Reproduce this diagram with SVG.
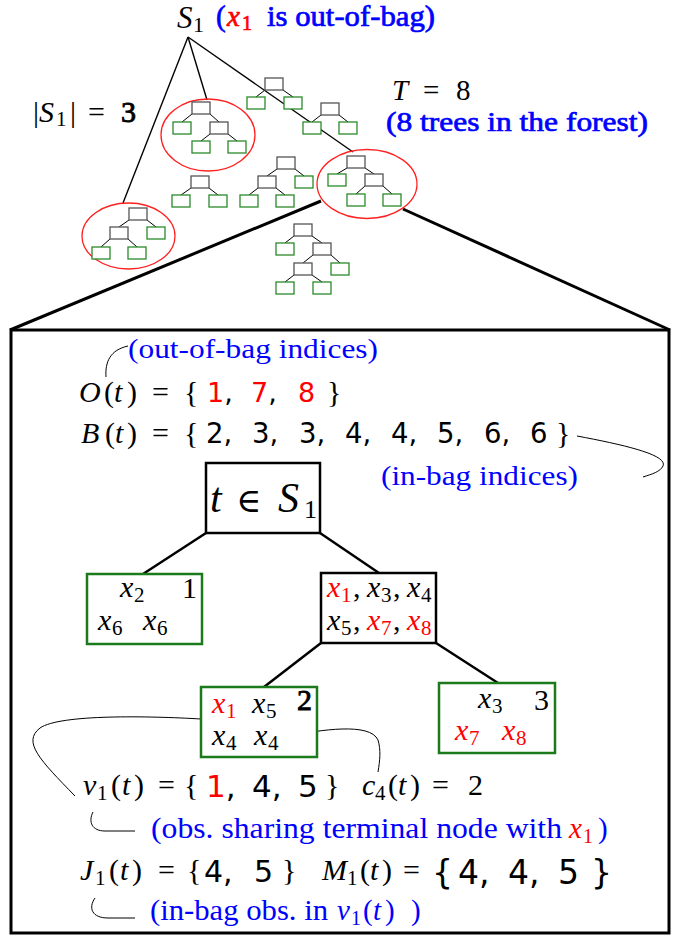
<svg xmlns="http://www.w3.org/2000/svg" width="681" height="938" viewBox="0 0 681 938">
<style>
.m{font-family:"Liberation Serif","Times New Roman",serif;fill:#000}
.it{font-style:italic}
.d{font-family:"DejaVu Sans",sans-serif}
.bl{fill:#0000ff}
.rd{fill:#ff0000}
.bk{fill:#000}
.bdb{stroke:#0000ff;stroke-width:0.7}
.bdr{stroke:#ff0000;stroke-width:0.7}
.bdk{stroke:#000;stroke-width:0.9}
.n{fill:#fff;stroke:#555;stroke-width:1.3}
.l{fill:#fff;stroke:#2a8a2a;stroke-width:1.3}
.te{stroke:#000;stroke-width:1}
.ell{fill:none;stroke:#ff2020;stroke-width:1.3}
.thin{stroke:#000;stroke-width:1.4;fill:none}
.thick{stroke:#000;stroke-width:3;fill:none}
.edge{stroke:#000;stroke-width:2.5;fill:none}
.cur{stroke:#000;stroke-width:1;fill:none}
.gbox{fill:#fff;stroke:#1b7a1b;stroke-width:2.5}
.kbox{fill:#fff;stroke:#000;stroke-width:2.5}
</style>
<rect width="681" height="938" fill="#fff"/>

<g id="connectors">
  <line class="thin" x1="188" y1="37" x2="123" y2="203"/>
  <line class="thin" x1="188" y1="37" x2="207" y2="100"/>
  <line class="thin" x1="188" y1="37" x2="353" y2="152"/>
  <line class="thick" x1="321" y1="201" x2="10" y2="330"/>
  <line class="thick" x1="403" y1="209" x2="670" y2="330"/>
  <line class="edge" x1="206" y1="533" x2="143" y2="574"/>
  <line class="edge" x1="320" y1="533" x2="379" y2="573"/>
  <line class="edge" x1="321" y1="643" x2="264" y2="687"/>
  <line class="edge" x1="436" y1="643" x2="498" y2="683"/>
  <path class="cur" d="M106 377 C105 362 110 350 128 346"/>
  <path class="cur" d="M577 436 C625 445 668 455 663 466 C660 472 652 474 643 477"/>
  <path class="cur" d="M201 719 C150 716 60 714 40 728 C22 742 40 760 75 796"/>
  <path class="cur" d="M289 736 C320 730 370 722 378 740 C381 750 380 760 378 772"/>
  <path class="cur" d="M93 812 C88 822 92 831 105 831 L135 831"/>
  <path class="cur" d="M95 898 C88 908 92 918 108 918 L135 918"/>
</g>

<g id="forest">
  <ellipse class="ell" cx="208" cy="135" rx="47" ry="36"/>
  <ellipse class="ell" cx="367" cy="184" rx="50" ry="34.5"/>
  <ellipse class="ell" cx="128.5" cy="236" rx="46.5" ry="33"/>
  <g id="treeA">
    <path class="te" d="M192 114L182 122M210 114L219 122M210 134L201 141M228 134L237 141"/>
    <rect class="n" x="192" y="102" width="18" height="12"/>
    <rect class="l" x="173" y="122" width="18" height="12"/>
    <rect class="n" x="210" y="122" width="18" height="12"/>
    <rect class="l" x="192" y="141" width="18" height="12"/>
    <rect class="l" x="228" y="141" width="18" height="12"/>
  </g>
  <g id="treeB">
    <path class="te" d="M265 90L256 97M283 90L293 97"/>
    <rect class="n" x="265" y="78" width="18" height="12"/>
    <rect class="l" x="247" y="97" width="18" height="12"/>
    <rect class="l" x="284" y="97" width="18" height="12"/>
  </g>
  <g id="treeC">
    <path class="te" d="M321 115L312 122M339 115L348 122"/>
    <rect class="n" x="321" y="103" width="18" height="12"/>
    <rect class="l" x="303" y="122" width="18" height="12"/>
    <rect class="l" x="339" y="122" width="18" height="12"/>
  </g>
  <g id="treeH">
    <path class="te" d="M347 168L337 174M365 168L374 174M365 186L356 194M383 186L392 194"/>
    <rect class="n" x="347" y="156" width="18" height="12"/>
    <rect class="l" x="328" y="174" width="18" height="12"/>
    <rect class="n" x="365" y="174" width="18" height="12"/>
    <rect class="l" x="347" y="194" width="18" height="12"/>
    <rect class="l" x="383" y="194" width="18" height="12"/>
  </g>
  <g id="treeD">
    <path class="te" d="M191 188L181 195M209 188L218 195"/>
    <rect class="n" x="191" y="176" width="18" height="12"/>
    <rect class="l" x="172" y="195" width="18" height="12"/>
    <rect class="l" x="209" y="195" width="18" height="12"/>
  </g>
  <g id="treeE">
    <path class="te" d="M277 169L267 176M295 169L304 176M258 188L249 195M276 188L285 195"/>
    <rect class="n" x="277" y="157" width="18" height="12"/>
    <rect class="n" x="258" y="176" width="18" height="12"/>
    <rect class="l" x="295" y="176" width="18" height="12"/>
    <rect class="l" x="240" y="195" width="18" height="12"/>
    <rect class="l" x="276" y="195" width="18" height="12"/>
  </g>
  <g id="treeF">
    <path class="te" d="M129 220L119 227M147 220L156 227M110 239L101 247M128 239L137 247"/>
    <rect class="n" x="129" y="208" width="18" height="12"/>
    <rect class="n" x="110" y="227" width="18" height="12"/>
    <rect class="l" x="147" y="227" width="18" height="12"/>
    <rect class="l" x="92" y="247" width="18" height="12"/>
    <rect class="l" x="128" y="247" width="18" height="12"/>
  </g>
  <g id="treeG">
    <path class="te" d="M294 236L285 243M312 236L322 243M313 255L303 263M331 255L340 263M294 275L285 282M312 275L322 282"/>
    <rect class="n" x="294" y="224" width="18" height="12"/>
    <rect class="l" x="276" y="243" width="18" height="12"/>
    <rect class="n" x="313" y="243" width="18" height="12"/>
    <rect class="n" x="294" y="263" width="18" height="12"/>
    <rect class="l" x="331" y="263" width="18" height="12"/>
    <rect class="l" x="276" y="282" width="18" height="12"/>
    <rect class="l" x="313" y="282" width="18" height="12"/>
  </g>
</g>

<g id="top-labels">
  <text class="m" font-size="31"><tspan class="it" x="177" y="28">S</tspan><tspan x="193" y="32" font-size="22">1</tspan></text>
  <text class="m" font-size="29"><tspan class="bl bdb" x="216" y="26">(</tspan><tspan class="rd it bdr" x="227" y="26">x</tspan><tspan class="rd bdr" x="242" y="30" font-size="20">1</tspan></text>
  <text class="m bl bdb" x="267" y="26" font-size="29" textLength="168" lengthAdjust="spacingAndGlyphs">is out-of-bag)</text>
  <text class="m" font-size="30"><tspan x="33" y="122">|</tspan><tspan class="it" x="39" y="122">S</tspan><tspan x="56" y="126" font-size="21">1</tspan><tspan x="70" y="122">|</tspan><tspan x="88" y="122">=</tspan><tspan class="bdk" x="121" y="122">3</tspan></text>
  <text class="m" font-size="29"><tspan class="it" x="392" y="100">T</tspan><tspan x="423" y="100">=</tspan><tspan x="456" y="100">8</tspan></text>
  <text class="m bl bdb" x="386" y="131" font-size="28" textLength="262" lengthAdjust="spacingAndGlyphs">(8 trees in the forest)</text>
</g>

<g id="zoom-box">
  <rect x="11" y="330" width="658" height="603" fill="none" stroke="#000" stroke-width="3"/>
</g>

<g id="set-labels">
  <text class="m bl" x="128" y="358" font-size="28" textLength="250" lengthAdjust="spacingAndGlyphs">(out-of-bag indices)</text>
  <text class="m" font-size="30"><tspan class="it" x="79" y="402">O</tspan><tspan x="104" y="402">(</tspan><tspan class="it" x="114" y="402">t</tspan><tspan x="127" y="402">)</tspan><tspan x="152" y="402">=</tspan><tspan x="184" y="402">{</tspan><tspan x="327" y="402">}</tspan></text>
  <text class="d" font-size="27" y="402"><tspan class="rd" x="207">1</tspan><tspan class="bk">,</tspan><tspan class="rd" x="251">7</tspan><tspan class="bk">,</tspan><tspan class="rd" x="298">8</tspan></text>
  <text class="m" font-size="30"><tspan class="it" x="81" y="443">B</tspan><tspan x="105" y="443">(</tspan><tspan class="it" x="115" y="443">t</tspan><tspan x="127" y="443">)</tspan><tspan x="152" y="443">=</tspan><tspan x="184" y="443">{</tspan><tspan x="556" y="443">}</tspan></text>
  <text class="d" font-size="27.5" y="443"><tspan x="206">2,</tspan><tspan x="252">3,</tspan><tspan x="299">3,</tspan><tspan x="345">4,</tspan><tspan x="391">4,</tspan><tspan x="437">5,</tspan><tspan x="484">6,</tspan><tspan x="530">6</tspan></text>
  <text class="m bl" x="381" y="485" font-size="28" textLength="197" lengthAdjust="spacingAndGlyphs">(in-bag indices)</text>
</g>

<g id="root">
  <rect class="kbox" x="206" y="463" width="114" height="70"/>
  <text class="m" font-size="42"><tspan class="it" x="210" y="512">t</tspan><tspan x="236" y="512" style="font-family:'DejaVu Serif',serif" font-size="34">∈</tspan><tspan class="it" x="278" y="512">S</tspan><tspan x="304" y="518" font-size="26">1</tspan></text>
</g>

<g id="leaf1">
  <rect class="gbox" x="87" y="574" width="115" height="70"/>
  <text class="m" font-size="30"><tspan class="it" x="120" y="597">x</tspan><tspan x="134" y="602" font-size="21">2</tspan><tspan x="182" y="598">1</tspan><tspan class="it" x="98" y="630">x</tspan><tspan x="112" y="635" font-size="21">6</tspan><tspan class="it" x="143" y="630">x</tspan><tspan x="157" y="635" font-size="21">6</tspan></text>
</g>

<g id="split">
  <rect class="kbox" x="321" y="573" width="115" height="70"/>
  <text class="m" font-size="30"><tspan class="it rd" x="327" y="597">x</tspan><tspan class="rd" x="341" y="602" font-size="21">1</tspan><tspan x="353" y="597">,</tspan><tspan class="it" x="367" y="597">x</tspan><tspan x="381" y="602" font-size="21">3</tspan><tspan x="393" y="597">,</tspan><tspan class="it" x="407" y="597">x</tspan><tspan x="421" y="602" font-size="21">4</tspan><tspan class="it" x="327" y="630">x</tspan><tspan x="341" y="635" font-size="21">5</tspan><tspan x="353" y="630">,</tspan><tspan class="it rd" x="367" y="630">x</tspan><tspan class="rd" x="381" y="635" font-size="21">7</tspan><tspan x="393" y="630">,</tspan><tspan class="it rd" x="407" y="630">x</tspan><tspan class="rd" x="421" y="635" font-size="21">8</tspan></text>
</g>

<g id="leaf2">
  <rect class="gbox" x="201" y="687" width="116" height="70"/>
  <text class="m" font-size="30"><tspan class="it rd" x="212" y="713">x</tspan><tspan class="rd" x="226" y="718" font-size="21">1</tspan><tspan class="it" x="252" y="713">x</tspan><tspan x="266" y="718" font-size="21">5</tspan><tspan class="bdk" x="297" y="710">2</tspan><tspan class="it" x="212" y="745">x</tspan><tspan x="226" y="750" font-size="21">4</tspan><tspan class="it" x="254" y="745">x</tspan><tspan x="268" y="750" font-size="21">4</tspan></text>
</g>

<g id="leaf3">
  <rect class="gbox" x="439" y="683" width="116" height="70"/>
  <text class="m" font-size="30"><tspan class="it" x="478" y="708">x</tspan><tspan x="492" y="713" font-size="21">3</tspan><tspan x="534" y="710">3</tspan><tspan class="it rd" x="455" y="740">x</tspan><tspan class="rd" x="469" y="745" font-size="21">7</tspan><tspan class="it rd" x="502" y="740">x</tspan><tspan class="rd" x="516" y="745" font-size="21">8</tspan></text>
</g>

<g id="bottom-labels">
  <text class="m" font-size="30"><tspan class="it" x="83" y="795">v</tspan><tspan x="97" y="800" font-size="21">1</tspan><tspan x="111" y="795">(</tspan><tspan class="it" x="122" y="795">t</tspan><tspan x="134" y="795">)</tspan><tspan x="158" y="795">=</tspan><tspan x="184" y="795">{</tspan><tspan x="325" y="795">}</tspan></text>
  <text class="d" font-size="31" y="797"><tspan class="rd" x="206">1</tspan><tspan class="bk">,</tspan><tspan x="252">4,</tspan><tspan x="298">5</tspan></text>
  <text class="m" font-size="30"><tspan class="it" x="362" y="795">c</tspan><tspan x="375" y="800" font-size="21">4</tspan><tspan x="388" y="795">(</tspan><tspan class="it" x="398" y="795">t</tspan><tspan x="410" y="795">)</tspan><tspan x="432" y="795">=</tspan><tspan x="468" y="795">2</tspan></text>
  <text class="m bl" x="151" y="838" font-size="29" textLength="411" lengthAdjust="spacingAndGlyphs">(obs. sharing terminal node with</text>
  <text class="m" font-size="29"><tspan class="it rd" x="569" y="838">x</tspan><tspan class="rd" x="583" y="843" font-size="20">1</tspan><tspan class="bl" x="598" y="838">)</tspan></text>
  <text class="m" font-size="30"><tspan class="it" x="80" y="880">J</tspan><tspan x="95" y="885" font-size="21">1</tspan><tspan x="109" y="880">(</tspan><tspan class="it" x="120" y="880">t</tspan><tspan x="132" y="880">)</tspan><tspan x="158" y="880">=</tspan><tspan x="187" y="880">{</tspan><tspan x="282" y="880">}</tspan></text>
  <text class="d" font-size="30" y="882"><tspan x="204">4,</tspan><tspan x="254">5</tspan></text>
  <text class="m" font-size="30"><tspan class="it" x="322" y="880">M</tspan><tspan x="347" y="885" font-size="21">1</tspan><tspan x="360" y="880">(</tspan><tspan class="it" x="370" y="880">t</tspan><tspan x="382" y="880">)</tspan><tspan x="403" y="880">=</tspan></text>
  <text class="d" font-size="33" y="884"><tspan x="432">{</tspan><tspan x="458">4,</tspan><tspan x="508">4,</tspan><tspan x="558">5</tspan><tspan x="591">}</tspan></text>
  <text class="m bl" x="150" y="920" font-size="29" textLength="178" lengthAdjust="spacingAndGlyphs">(in-bag obs. in</text>
  <text class="m bl" font-size="29"><tspan class="it" x="337" y="920">v</tspan><tspan x="351" y="925" font-size="20">1</tspan><tspan x="363" y="920">(</tspan><tspan class="it" x="373" y="920">t</tspan><tspan x="385" y="920">)</tspan><tspan x="411" y="920">)</tspan></text>
</g>
</svg>
